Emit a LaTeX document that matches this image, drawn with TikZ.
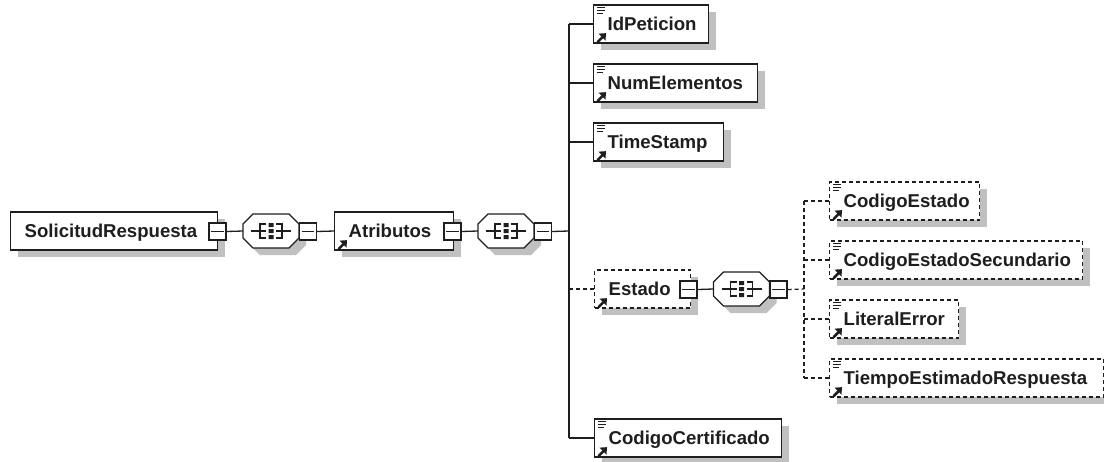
\documentclass[tikz,border=0pt]{standalone}
\usepackage{fontspec}
\setmainfont{Liberation Sans}
\usetikzlibrary{shadows}

\definecolor{shadowgray}{RGB}{192,192,192}
\definecolor{linedark}{RGB}{30,30,30}

\tikzset{
  boxshadow/.style={general shadow={shadow xshift=7pt,shadow yshift=-7pt,fill=shadowgray}},
  elem/.style={draw=linedark,line width=1.3pt,fill=white,boxshadow,anchor=west,rectangle,
    minimum height=38pt,inner xsep=14pt,inner ysep=0pt,align=left,text height=17pt,text depth=4.5pt,
    font=\fontsize{18.6}{20}\selectfont\bfseries},
  optelem/.style={elem,dash pattern=on 4pt off 3pt},
  seqbox/.style={rectangle,minimum width=56pt,minimum height=34pt,inner sep=0pt},
  minusbox/.style={draw=linedark,line width=1.3pt,fill=white,rectangle,
    minimum width=17pt,minimum height=17pt,inner sep=0pt},
  link/.style={draw=linedark,line width=1.3pt},
  optlink/.style={link,dash pattern=on 4pt off 3pt},
  linkarrow/.pic={
    \draw[line width=2.6pt] (4.5,-1.5) -- (10,-7);
    \fill (13,-10.5) -- (5.5,-10) -- (12.5,-3) -- cycle;
  },
  notelines/.pic={
    \draw[line width=1.4pt] (4,3) -- (12,3) (4,6) -- (12,6) (4,9) -- (10,9);
  },
  seqshape/.pic={
    \fill[shadowgray,shift={(7,7)}] (-18,-17) -- (18,-17) -- (28,-7) -- (28,7) -- (18,17) -- (-18,17) -- (-28,7) -- (-28,-7) -- cycle;
    \draw[line width=1.3pt,fill=white] (-18,-17) -- (18,-17) -- (28,-7) -- (28,7) -- (18,17) -- (-18,17) -- (-28,7) -- (-28,-7) -- cycle;
    \draw[line width=1.2pt] (-20,0) -- (-5,0) (5,0) -- (20,0);
    \draw[line width=1.2pt] (-5,-7) -- (-11,-7) -- (-11,7) -- (-5,7);
    \draw[line width=1.2pt] (5,-7) -- (11,-7) -- (11,7) -- (5,7);
    \fill (-2.5,-8) rectangle (2.5,-4) (-2.5,-2) rectangle (2.5,2) (-2.5,4) rectangle (2.5,8);
  }
}

\begin{document}
\begin{tikzpicture}[x=1pt,y=-1pt,color=linedark]
  \useasboundingbox (0,0) rectangle (1104,461);

  % root and first sequence
  \node[elem,minimum width=207pt,text width=179pt] (solicitud) at (10,231) {SolicitudRespuesta};
  \node[seqbox] (seqA) at (271,231) {};
  \pic at (seqA.center) {seqshape};
  \node[minusbox] (minusA) at (217.5,231.5) {};
  \node[minusbox] (minusB) at (308,231.5) {};

  \node[elem,minimum width=119pt,text width=91pt] (atributos) at (334,231) {Atributos};
  \node[seqbox] (seqB) at (506,231) {};
  \pic at (seqB.center) {seqshape};
  \node[minusbox] (minusC) at (452.5,231.5) {};
  \node[minusbox] (minusD) at (543,231.5) {};

  % children of Atributos
  \coordinate (trunkA) at (569,231);
  \node[elem,minimum width=115pt,text width=87pt] (idpeticion) at (593,24) {IdPeticion};
  \node[elem,minimum width=164pt,text width=136pt] (numelementos) at (593,83) {NumElementos};
  \node[elem,minimum width=130pt,text width=102pt] (timestamp) at (593,142) {TimeStamp};
  \node[optelem,minimum width=96pt,text width=68pt] (estado) at (594,289) {Estado};
  \node[elem,minimum width=187pt,text width=159pt] (certificado) at (594,438) {CodigoCertificado};

  \node[seqbox] (seqC) at (741.5,289) {};
  \pic at (seqC.center) {seqshape};
  \node[minusbox] (minusE) at (688.5,289.5) {};
  \node[minusbox] (minusF) at (778.5,289.5) {};

  % children of Estado
  \coordinate (trunkB) at (804,289);
  \node[optelem,minimum width=150pt,text width=122pt] (codigoestado) at (829,201) {CodigoEstado};
  \node[optelem,minimum width=253pt,text width=225pt] (secundario) at (829,260) {CodigoEstadoSecundario};
  \node[optelem,minimum width=129pt,text width=101pt] (literal) at (829,319) {LiteralError};
  \node[optelem,minimum width=274pt,text width=246pt] (tiempo) at (829,378) {TiempoEstimadoRespuesta};

  \draw[link] (minusA.east) -- (seqA.west);
  \draw[link] (minusB.east) -- (atributos.west);
  \draw[link] (minusC.east) -- (seqB.west);
  \draw[link] (minusD.east) -- (trunkA);
  \draw[link] (minusE.east) -- (seqC.west);
  \draw[optlink] (minusF.east) -- (trunkB);

  \draw[link] (trunkA |- idpeticion.west) -- (trunkA |- certificado.west);
  \foreach \el in {idpeticion,numelementos,timestamp,certificado}
  {\draw[link] (trunkA |- \el.west) -- (\el.west);}
  \draw[optlink] (trunkA |- estado.west) -- (estado.west);

  \draw[optlink] (trunkB |- codigoestado.west) -- (trunkB |- tiempo.west);
  \foreach \el in {codigoestado,secundario,literal,tiempo}
  {\draw[optlink] (trunkB |- \el.west) -- (\el.west);}

  % icons
  \foreach \el in {minusA,minusB,minusC,minusD,minusE,minusF}
  {\draw[line width=1.2pt] ([xshift=3pt]\el.west) -- ([xshift=-3pt]\el.east);}
  \foreach \el in {atributos,idpeticion,numelementos,timestamp,estado,certificado,codigoestado,secundario,literal,tiempo}
  {\pic at (\el.south west) {linkarrow};}
  \foreach \el in {idpeticion,numelementos,timestamp,certificado,codigoestado,secundario,literal,tiempo}
  {\pic at (\el.north west) {notelines};}
\end{tikzpicture}
\end{document}
